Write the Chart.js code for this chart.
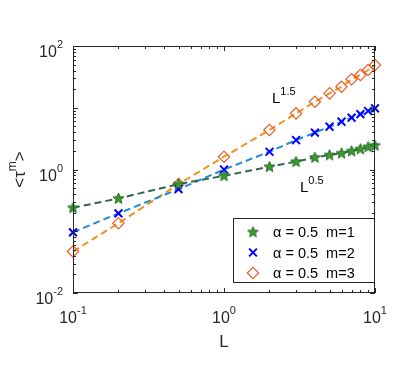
<!DOCTYPE html>
<html lang="en">
<head>
<meta charset="UTF-8">
<script src="https://cdn.jsdelivr.net/npm/chart.js"></script>
<style>
    body { margin: 0; background: #fff; }
    canvas { display: block; }
</style>
</head>
<body>
<canvas id="chart" width="407" height="366"></canvas>
<script>
// data
const lengths = [0.1, 0.2, 0.5, 1, 2, 3, 4, 5, 6, 7, 8, 9, 10];
const tauM1 = [0.24, 0.34, 0.58, 0.79, 1.11, 1.34, 1.57, 1.72, 1.84, 1.99, 2.15, 2.33, 2.46];
const tauM2 = [0.096, 0.195, 0.48, 1.0, 1.94, 3.0, 3.95, 4.93, 5.94, 6.9, 7.9, 8.86, 9.8];
const tauM3 = [0.047, 0.135, 0.58, 1.61, 4.36, 8.1, 12.5, 17.1, 21.9, 28.9, 33.9, 40.8, 49.2];
const seriesLabels = ["\u03b1 = 0.5  m=1", "\u03b1 = 0.5  m=2", "\u03b1 = 0.5  m=3"];
const xTickExps = [-1, 0, 1];
const yTickExps = [-2, 0, 2];

const FONT = '"Liberation Sans", Arial, sans-serif';

function makeStar() {
    const c = document.createElement("canvas");
    c.width = 13; c.height = 13;
    const g = c.getContext("2d");
    g.beginPath();
    for (let i = 0; i < 10; i++) {
        const r = i % 2 ? 2.4 : 5.7;
        const a = -Math.PI / 2 + i * Math.PI / 5;
        g.lineTo(6.5 + r * Math.cos(a), 6.8 + r * Math.sin(a));
    }
    g.closePath();
    g.fillStyle = "#3d9b2c";
    g.fill();
    g.strokeStyle = "#1f6b22";
    g.lineWidth = 1;
    g.stroke();
    return c;
}
const starImg = makeStar();

function pts(ys) {
    return lengths.map((x, i) => ({ x: x, y: ys[i] }));
}

const datasets = [
    {
        label: seriesLabels[0], data: pts(tauM1),
        showLine: true, borderColor: "#2e6a4f", borderWidth: 2, borderDash: [7, 4],
        pointStyle: starImg, pointRadius: 6, pointBorderColor: "#1f6b22",
        pointBackgroundColor: "#3d9b2c", clip: false
    },
    {
        label: seriesLabels[1], data: pts(tauM2),
        showLine: true, borderColor: "#1f8ad6", borderWidth: 2, borderDash: [7, 4],
        pointStyle: "crossRot", pointRadius: 5.5, pointBorderWidth: 2,
        pointBorderColor: "#0000ff", pointBackgroundColor: "#0000ff", clip: false
    },
    {
        label: seriesLabels[2], data: pts(tauM3),
        showLine: true, borderColor: "#f0931c", borderWidth: 2, borderDash: [7, 4],
        pointStyle: "rectRot", pointRadius: 5.7, pointBorderWidth: 1.2,
        pointBorderColor: "#e8602a", pointBackgroundColor: "rgba(255,255,255,0)", clip: false
    }
];

function drawPow(ctx, base, exp, x, y, align, size) {
    const sup = Math.round(size * 0.7);
    ctx.font = size + "px " + FONT;
    const wb = ctx.measureText(base).width;
    ctx.font = sup + "px " + FONT;
    const we = ctx.measureText(exp).width;
    let left = x;
    if (align === "center") left = x - (wb + we) / 2;
    if (align === "right") left = x - (wb + we);
    ctx.textAlign = "left";
    ctx.textBaseline = "alphabetic";
    ctx.font = size + "px " + FONT;
    ctx.fillText(base, left, y);
    ctx.font = sup + "px " + FONT;
    ctx.fillText(exp, left + wb, y - size * 0.56);
}

const axesPlugin = {
    id: "matlabAxes",
    afterDatasetsDraw(chart) {
        const ctx = chart.ctx;
        const a = chart.chartArea;
        const xs = chart.scales.x, ys = chart.scales.y;
        ctx.save();
        ctx.strokeStyle = "#262626";
        ctx.fillStyle = "#262626";
        ctx.lineWidth = 1;
        ctx.strokeRect(a.left + 0.5, a.top + 0.5, a.right - a.left - 1, a.bottom - a.top - 1);

        // inward ticks on all four sides
        ctx.beginPath();
        for (let e = -1; e <= 1; e++) {
            for (let k = 1; k <= 9; k++) {
                const v = k * Math.pow(10, e);
                if (v < xs.min || v > xs.max) continue;
                const px = Math.round(xs.getPixelForValue(v)) + 0.5;
                const len = k === 1 ? 5 : 3;
                ctx.moveTo(px, a.bottom); ctx.lineTo(px, a.bottom - len);
                ctx.moveTo(px, a.top); ctx.lineTo(px, a.top + len);
            }
        }
        for (let e = -2; e <= 2; e++) {
            for (let k = 1; k <= 9; k++) {
                const v = k * Math.pow(10, e);
                if (v < ys.min || v > ys.max) continue;
                const py = Math.round(ys.getPixelForValue(v)) + 0.5;
                const len = k === 1 ? 5 : 3;
                ctx.moveTo(a.left, py); ctx.lineTo(a.left + len, py);
                ctx.moveTo(a.right, py); ctx.lineTo(a.right - len, py);
            }
        }
        ctx.stroke();

        // tick labels
        xTickExps.forEach(e => {
            const px = xs.getPixelForValue(Math.pow(10, e));
            drawPow(ctx, "10", String(e), px, a.bottom + 30, "center", 16);
        });
        yTickExps.forEach(e => {
            const py = ys.getPixelForValue(Math.pow(10, e));
            drawPow(ctx, "10", String(e), a.left - 10, py + 11, "right", 16);
        });

        // axis titles
        ctx.font = "17px " + FONT;
        ctx.textAlign = "center";
        ctx.fillText("L", (a.left + a.right) / 2, a.bottom + 54);

        ctx.save();
        ctx.translate(25, (a.top + a.bottom) / 2);
        ctx.rotate(-Math.PI / 2);
        ctx.font = "17px " + FONT;
        const w1 = ctx.measureText("<\u03c4").width;
        const w3 = ctx.measureText(">").width;
        ctx.font = "12px " + FONT;
        const w2 = ctx.measureText("m").width;
        let sx = -(w1 + w2 + w3) / 2;
        ctx.textAlign = "left";
        ctx.font = "17px " + FONT;
        ctx.fillText("<\u03c4", sx, 0);
        ctx.font = "12px " + FONT;
        ctx.fillText("m", sx + w1, -9);
        ctx.font = "17px " + FONT;
        ctx.fillText(">", sx + w1 + w2, 0);
        ctx.restore();

        // power-law annotations
        ctx.fillStyle = "#000";
        drawPow(ctx, "L", "1.5", 272, 103, "left", 15);
        drawPow(ctx, "L", "0.5", 300, 192, "left", 15);

        // legend box
        const lx = 233, ly = 218, lw = 142, lh = 65;
        ctx.fillStyle = "#fff";
        ctx.fillRect(lx, ly, lw, lh);
        ctx.strokeStyle = "#262626";
        ctx.strokeRect(lx + 0.5, ly + 0.5, lw - 1, lh - 1);
        const rowY = [232, 252.5, 273];
        chart.data.datasets.forEach((ds, i) => {
            ctx.save();
            ctx.fillStyle = ds.pointBackgroundColor;
            ctx.strokeStyle = ds.pointBorderColor;
            ctx.lineWidth = ds.pointBorderWidth || 1;
            Chart.helpers.drawPoint(ctx, { pointStyle: ds.pointStyle, radius: ds.pointRadius, rotation: 0, borderWidth: ds.pointBorderWidth || 1 }, 253, rowY[i]);
            ctx.restore();
            ctx.fillStyle = "#000";
            ctx.font = "14.5px " + FONT;
            ctx.textAlign = "left";
            ctx.textBaseline = "middle";
            ctx.fillText(ds.label, 273, rowY[i] + 1);
        });
        ctx.restore();
    }
};

new Chart(document.getElementById("chart"), {
    type: "scatter",
    data: { datasets: datasets },
    options: {
        responsive: false,
        animation: false,
        devicePixelRatio: 1,
        layout: { padding: { left: 73, right: 32, top: 46, bottom: 73 } },
        plugins: { legend: { display: false }, tooltip: { enabled: false } },
        scales: {
            x: { type: "logarithmic", min: 0.1, max: 10, display: false },
            y: { type: "logarithmic", min: 0.01, max: 100, display: false }
        }
    },
    plugins: [axesPlugin]
});
</script>
</body>
</html>
